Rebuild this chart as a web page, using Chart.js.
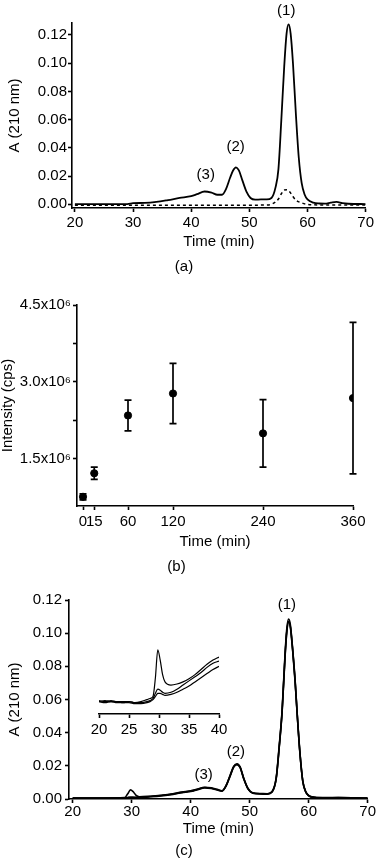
<!DOCTYPE html>
<html><head><meta charset="utf-8">
<script src="https://cdn.jsdelivr.net/npm/chart.js@4.4.1/dist/chart.umd.min.js"></script>
<style>
html,body{margin:0;padding:0;background:#fff;}
#wrap{position:relative;width:376px;height:863px;overflow:hidden;background:#fff;}
canvas{position:absolute;}
</style></head><body>
<div id="wrap">
<canvas id="ca" width="376" height="280" style="left:0px;top:0px"></canvas>
<canvas id="cb" width="376" height="300" style="left:0px;top:280px"></canvas>
<canvas id="cc" width="376" height="293" style="left:0px;top:570px"></canvas>
<canvas id="ci" width="160" height="130" style="left:80px;top:620px"></canvas>
</div>
<script>
// ---------- Panel (a) data ----------
const timeA = [20,25,29,30,32,34,36,38,40,41,42.3,43.5,44.5,45.3,46,46.7,47.2,47.7,48.2,48.8,49.5,50.2,51,52,53,53.8,54.5,55,55.5,56,56.4,56.75,57.1,57.5,58,58.5,59,59.5,60,61,62,63,64,65,66,67,70];
const absSolidA = [0.0002,0.0002,0.0002,0.0008,0.0010,0.0017,0.0030,0.0045,0.0058,0.0072,0.0091,0.0083,0.0068,0.0068,0.0110,0.0190,0.0240,0.0262,0.0240,0.0170,0.0090,0.0045,0.0033,0.0035,0.0035,0.0045,0.0120,0.0250,0.0600,0.0980,0.1210,0.1275,0.1210,0.1000,0.0640,0.0330,0.0150,0.0070,0.0035,0.0012,0.0006,0.0005,0.0012,0.0017,0.0008,0.0004,0.0002];
const timeDashA = [20,30,40,50,53,54,55,55.5,56,56.5,57,57.5,58,59,60,62,70];
const absDashA = [-0.0006,-0.0006,-0.0006,-0.0006,-0.0004,0.0004,0.0038,0.0075,0.0102,0.0103,0.0085,0.0055,0.0030,0.0010,0.0000,-0.0004,-0.0004];
const xTicksA = [20,30,40,50,60,70];
const yTicksA = [0,0.02,0.04,0.06,0.08,0.10,0.12];
const peakNames = ['(1)','(2)','(3)'];
const peakTimeA = [56.35,47.65,42.5];
const peakAbsA = [0.137,0.0406,0.0208];

// ---------- Panel (b) data ----------
const timeB = [0,15,60,120,240,360];
const intensityB = [0.75e6,1.21e6,2.34e6,2.77e6,1.99e6,2.68e6];
const errorB = [0.06e6,0.12e6,0.30e6,0.59e6,0.66e6,1.48e6];
const xTicksB = [0,15,60,120,240,360];
const yTicksB = [1.5e6,2.25e6,3.0e6,3.75e6,4.5e6];
const yTickLabelsB = ['1.5x10\u2076','','3.0x10\u2076','','4.5x10\u2076'];

// ---------- Panel (c) data ----------
const timeC = [20,25,28.8,29.3,29.8,30.2,30.7,31.3,33,35,37,38.5,40,41,42.4,43.5,44.5,45.3,46,46.7,47.3,47.85,48.4,49,49.7,50.5,52,53,53.8,54.5,55,55.5,56,56.3,56.6,56.9,57.3,57.7,58.05,58.5,59,59.5,60,61,63,65,70];
const absC1 = [0.0006,0.0006,0.0008,0.0030,0.0055,0.0046,0.0024,0.0014,0.0017,0.0023,0.0032,0.0042,0.0049,0.0058,0.0071,0.0067,0.0058,0.0050,0.0082,0.0145,0.0198,0.0213,0.0192,0.0125,0.0065,0.0038,0.0033,0.0032,0.0045,0.0130,0.0320,0.0540,0.0880,0.1030,0.1085,0.1050,0.0900,0.0720,0.0520,0.0290,0.0110,0.0045,0.0022,0.0011,0.0008,0.0009,0.0006];
const absC2 = [0.0005,0.0005,0.0007,0.0009,0.0011,0.0011,0.0010,0.0010,0.0015,0.0021,0.0030,0.0040,0.0047,0.0056,0.0069,0.0065,0.0056,0.0048,0.0080,0.0142,0.0195,0.0210,0.0190,0.0122,0.0063,0.0036,0.0031,0.0030,0.0043,0.0126,0.0312,0.0530,0.0866,0.1015,0.1072,0.1040,0.0893,0.0712,0.0515,0.0286,0.0108,0.0043,0.0020,0.0010,0.0007,0.0008,0.0005];
const absC3 = [0.0004,0.0004,0.0006,0.0008,0.0010,0.0010,0.0009,0.0009,0.0013,0.0019,0.0028,0.0038,0.0045,0.0054,0.0067,0.0063,0.0054,0.0047,0.0078,0.0139,0.0192,0.0207,0.0187,0.0120,0.0061,0.0035,0.0030,0.0029,0.0042,0.0123,0.0305,0.0525,0.0858,0.1008,0.1066,0.1034,0.0887,0.0706,0.0510,0.0282,0.0106,0.0042,0.0019,0.0009,0.0006,0.0007,0.0004];
const xTicksC = [20,30,40,50,60,70];
const yTicksC = [0,0.02,0.04,0.06,0.08,0.10,0.12];
const peakTimeC = [56.3,47.65,42.2];
const peakAbsC = [0.117,0.0282,0.0143];

// ---------- Inset data ----------
const timeI = [20,21,22,23,24,25,26,27,28,28.5,29,29.4,29.8,30.2,30.6,31,32,33,34,35,36,37,38,39,40];
const absI1 = [0.0006,0.0005,0.0006,0.0005,0.0005,0.0005,0.0004,0.0005,0.0007,0.0008,0.0010,0.0028,0.0055,0.0045,0.0031,0.0024,0.0021,0.0022,0.0024,0.0027,0.0031,0.0036,0.0041,0.0045,0.0048];
const absI2 = [0.0005,0.0006,0.0005,0.0005,0.0004,0.0005,0.0004,0.0004,0.0005,0.0006,0.0008,0.0013,0.0017,0.0016,0.0014,0.0013,0.0014,0.0017,0.0021,0.0025,0.0029,0.0033,0.0038,0.0042,0.0044];
const absI3 = [0.0005,0.0004,0.0005,0.0004,0.0004,0.0004,0.0003,0.0003,0.0004,0.0005,0.0007,0.0010,0.0013,0.0013,0.0012,0.0011,0.0012,0.0014,0.0017,0.0020,0.0024,0.0028,0.0032,0.0036,0.0039];
const xTicksI = [20,25,30,35,40];

// ---------- common ----------
const FONT = "'Liberation Sans', Arial, Helvetica, sans-serif";
Chart.defaults.font.family = FONT;
Chart.defaults.font.size = 15;
Chart.defaults.color = '#000';
Chart.defaults.animation = false;

const pts = (xs, ys) => xs.map((x, i) => ({x: x, y: ys[i]}));
const setTicks = arr => (s => { s.ticks = arr.map(v => ({value: v})); });
const border = {display: true, color: '#000', width: 1.6};
const grid = {display: true, drawOnChartArea: false, drawTicks: true, tickLength: 4, tickColor: '#000', tickWidth: 1.6};
const noPlug = {legend: {display: false}, tooltip: {enabled: false}};

function textPlugin(texts, xs, ys) {
  return {
    id: 'peakText',
    afterDatasetsDraw(chart) {
      const ctx = chart.ctx, sx = chart.scales.x, sy = chart.scales.y;
      ctx.save();
      ctx.font = '15px ' + FONT;
      ctx.fillStyle = '#000';
      ctx.textAlign = 'center';
      ctx.textBaseline = 'middle';
      texts.forEach((t, i) => ctx.fillText(t, sx.getPixelForValue(xs[i]), sy.getPixelForValue(ys[i])));
      ctx.restore();
    }
  };
}
function lineDS(xs, ys, w, dash) {
  return {data: pts(xs, ys), borderColor: '#000', borderWidth: w, borderDash: dash || [],
    pointRadius: 0, fill: false, cubicInterpolationMode: 'monotone'};
}
function panelTitle(t, pb) {
  return {display: true, text: t, position: 'bottom', color: '#000',
    font: {size: 15, weight: 'normal'}, padding: {top: 0, bottom: pb}};
}

// ---------- Chart (a) ----------
new Chart(document.getElementById('ca'), {
  type: 'line',
  data: {datasets: [lineDS(timeA, absSolidA, 1.8), lineDS(timeDashA, absDashA, 1.5, [3, 3])]},
  options: {
    responsive: false, devicePixelRatio: 1,
    layout: {padding: {top: 23, left: 0, right: 8, bottom: 0}},
    plugins: Object.assign({title: panelTitle('(a)', 4)}, noPlug),
    scales: {
      x: {type: 'linear', min: 19.5, max: 70, border, grid,
        afterBuildTicks: setTicks(xTicksA), afterFit: s => { s.height = 50; },
        ticks: {padding: 2, autoSkip: false, maxRotation: 0, callback: v => String(v)},
        title: {display: true, text: 'Time (min)', padding: {top: 0, bottom: 7}}},
      y: {type: 'linear', min: -0.0026, max: 0.1285, border, grid,
        afterBuildTicks: setTicks(yTicksA), afterFit: s => { s.width = 72; },
        ticks: {padding: 1, callback: v => v.toFixed(2)},
        title: {display: true, text: 'A (210 nm)', padding: {top: 6, bottom: 0}}}
    }
  },
  plugins: [textPlugin(peakNames, peakTimeA, peakAbsA)]
});

// ---------- Chart (b) ----------
const errorBarPlugin = {
  id: 'errorBars',
  beforeDatasetsDraw(chart) {
    const ctx = chart.ctx, sx = chart.scales.x, sy = chart.scales.y;
    ctx.save();
    ctx.strokeStyle = '#000';
    ctx.lineWidth = 1.7;
    timeB.forEach((t, i) => {
      const px = sx.getPixelForValue(t);
      const top = sy.getPixelForValue(intensityB[i] + errorB[i]);
      const bot = sy.getPixelForValue(intensityB[i] - errorB[i]);
      ctx.beginPath();
      ctx.moveTo(px, top); ctx.lineTo(px, bot);
      ctx.moveTo(px - 3.5, top); ctx.lineTo(px + 3.5, top);
      ctx.moveTo(px - 3.5, bot); ctx.lineTo(px + 3.5, bot);
      ctx.stroke();
    });
    ctx.restore();
  }
};
new Chart(document.getElementById('cb'), {
  type: 'scatter',
  data: {datasets: [{data: pts(timeB, intensityB), backgroundColor: '#000', borderColor: '#000',
    pointRadius: 3.6, pointHoverRadius: 3.6, showLine: false}]},
  options: {
    responsive: false, devicePixelRatio: 1,
    layout: {padding: {top: 25, left: 0, right: 23, bottom: 0}},
    plugins: Object.assign({title: panelTitle('(b)', 4)}, noPlug),
    scales: {
      x: {type: 'linear', min: -8, max: 360, border, grid,
        afterBuildTicks: setTicks(xTicksB), afterFit: s => { s.height = 52; },
        ticks: {padding: 3, autoSkip: false, maxRotation: 0, callback: v => String(v)},
        title: {display: true, text: 'Time (min)', padding: {top: 0, bottom: 7}}},
      y: {type: 'linear', min: 0.57e6, max: 4.5e6, border, grid,
        afterBuildTicks: setTicks(yTicksB), afterFit: s => { s.width = 77; },
        ticks: {padding: 2, callback: v => { const i = yTicksB.indexOf(v); return i >= 0 ? yTickLabelsB[i] : ''; }},
        title: {display: true, text: 'Intensity (cps)', font: {size: 15, lineHeight: 1}, padding: {top: 0, bottom: 0}}}
    }
  },
  plugins: [errorBarPlugin]
});

// ---------- Chart (c) ----------
new Chart(document.getElementById('cc'), {
  type: 'line',
  data: {datasets: [lineDS(timeC, absC3, 1.6), lineDS(timeC, absC2, 1.6), lineDS(timeC, absC1, 1.6)]},
  options: {
    responsive: false, devicePixelRatio: 1,
    layout: {padding: {top: 30, left: 0, right: 8, bottom: 0}},
    plugins: Object.assign({title: panelTitle('(c)', 3)}, noPlug),
    scales: {
      x: {type: 'linear', min: 19.37, max: 70, border, grid,
        afterBuildTicks: setTicks(xTicksC), afterFit: s => { s.height = 43; },
        ticks: {padding: 0, autoSkip: false, maxRotation: 0, callback: v => String(v)},
        title: {display: true, text: 'Time (min)', padding: {top: 0, bottom: 4}}},
      y: {type: 'linear', min: 0, max: 0.12, border, grid,
        afterBuildTicks: setTicks(yTicksC), afterFit: s => { s.width = 69; },
        ticks: {padding: 3, callback: v => v.toFixed(2)},
        title: {display: true, text: 'A (210 nm)', padding: {top: 6, bottom: 0}}}
    }
  },
  plugins: [textPlugin(peakNames, peakTimeC, peakAbsC)]
});

// ---------- Inset ----------
new Chart(document.getElementById('ci'), {
  type: 'line',
  data: {datasets: [lineDS(timeI, absI3, 1.2), lineDS(timeI, absI2, 1.2), lineDS(timeI, absI1, 1.2)]},
  options: {
    responsive: false, devicePixelRatio: 1,
    layout: {padding: {top: 10, left: 19, right: 21, bottom: 0}},
    plugins: noPlug,
    scales: {
      x: {type: 'linear', min: 20, max: 40, border, grid,
        afterBuildTicks: setTicks(xTicksI), afterFit: s => { s.height = 36; },
        ticks: {padding: 3, autoSkip: false, maxRotation: 0, callback: v => String(v)}},
      y: {type: 'linear', display: false, min: -0.00069, max: 0.0074}
    }
  }
});
</script>
</body></html>
